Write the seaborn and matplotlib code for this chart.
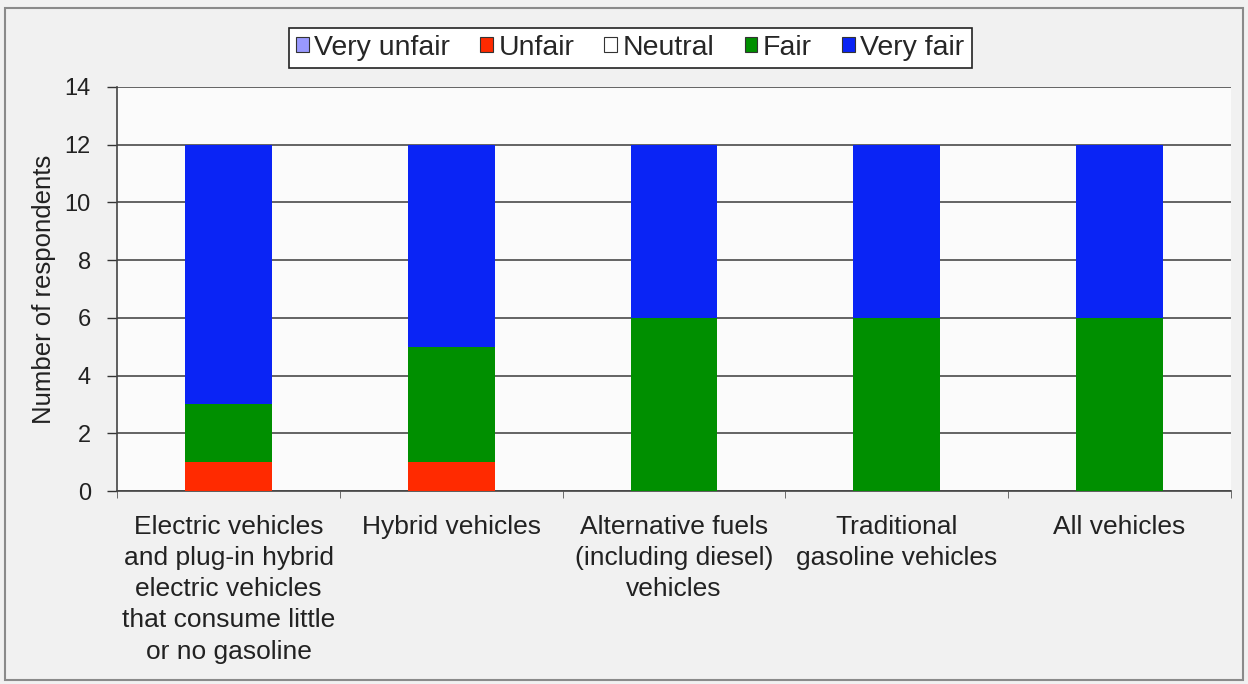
import numpy as np
import pandas as pd
import matplotlib
matplotlib.use("Agg")
import matplotlib.pyplot as plt
import seaborn as sns
from matplotlib.patches import Rectangle

# categories and counts per rating
categories = [
    "Electric vehicles\nand plug-in hybrid\nelectric vehicles\nthat consume little\nor no gasoline",
    "Hybrid vehicles",
    "Alternative fuels\n(including diesel)\nvehicles",
    "Traditional\ngasoline vehicles",
    "All vehicles",
]
very_unfair = [0, 0, 0, 0, 0]
unfair = [1, 1, 0, 0, 0]
neutral = [0, 0, 0, 0, 0]
fair = [2, 4, 6, 6, 6]
very_fair = [9, 7, 6, 6, 6]

series = ["Very unfair", "Unfair", "Neutral", "Fair", "Very fair"]
colors = ["#9999ff", "#ff2a00", "#ffffff", "#008f00", "#0a24f5"]

df = pd.DataFrame({"category": categories,
                   "Very unfair": very_unfair, "Unfair": unfair,
                   "Neutral": neutral, "Fair": fair, "Very fair": very_fair})

sns.set_style("white")
plt.rcParams["font.family"] = ["Liberation Sans", "DejaVu Sans"]

fig = plt.figure(figsize=(12.48, 6.84), dpi=100, facecolor="#f1f1f1")
ax = fig.add_axes([0.094, 0.282, 0.892, 0.591])
ax.set_facecolor("#fbfbfb")

bottom = np.zeros(len(categories))
for name, col in zip(series, colors):
    sns.barplot(x="category", y=name, data=df, color=col, width=0.39,
                bottom=bottom, ax=ax, edgecolor="none", linewidth=0,
                saturation=1, zorder=3)
    bottom = bottom + df[name].values

ax.set_ylim(0, 14)
ax.set_xlim(-0.5, 4.5)
ax.set_yticks(range(0, 15, 2))
ax.yaxis.grid(True, color="#3a3a3a", linewidth=1.1, zorder=1)
ax.set_axisbelow(True)
ax.set_ylabel("Number of respondents", fontsize=18.5, color="#222222", labelpad=6)
ax.set_xlabel("")
ax.tick_params(axis="y", labelsize=17, colors="#333333", length=7, width=1,
               direction="out", left=True, labelcolor="#222222", pad=12)
ax.tick_params(axis="x", which="major", length=0, labelsize=19,
               labelcolor="#222222", pad=17)
ax.set_xticks(np.arange(-0.5, 5, 1), minor=True)
ax.tick_params(axis="x", which="minor", length=5, bottom=True, color="#555555")
for lbl in ax.get_xticklabels():
    lbl.set_linespacing(1.38)

for s in ["top", "right"]:
    ax.spines[s].set_visible(False)
for s in ["left", "bottom"]:
    ax.spines[s].set_color("#444444")
    ax.spines[s].set_linewidth(1.2)

handles = [Rectangle((0, 0), 1, 1, facecolor=c, edgecolor="#333333", linewidth=0.8)
           for c in colors]
leg = fig.legend(handles, series, loc="center", bbox_to_anchor=(0.505, 0.93),
                 ncol=5, fontsize=20.5, frameon=True, fancybox=False,
                 edgecolor="#222222", framealpha=1, handlelength=0.45,
                 handleheight=0.45, handletextpad=0.2, columnspacing=1.05,
                 borderpad=0.25, borderaxespad=0)
leg.get_frame().set_linewidth(1.2)

fig.patches.append(Rectangle((0.004, 0.006), 0.992, 0.982, transform=fig.transFigure,
                             fill=False, edgecolor="#8a8a8a", linewidth=1.5))

fig.savefig("out.png", dpi=100, facecolor=fig.get_facecolor())
